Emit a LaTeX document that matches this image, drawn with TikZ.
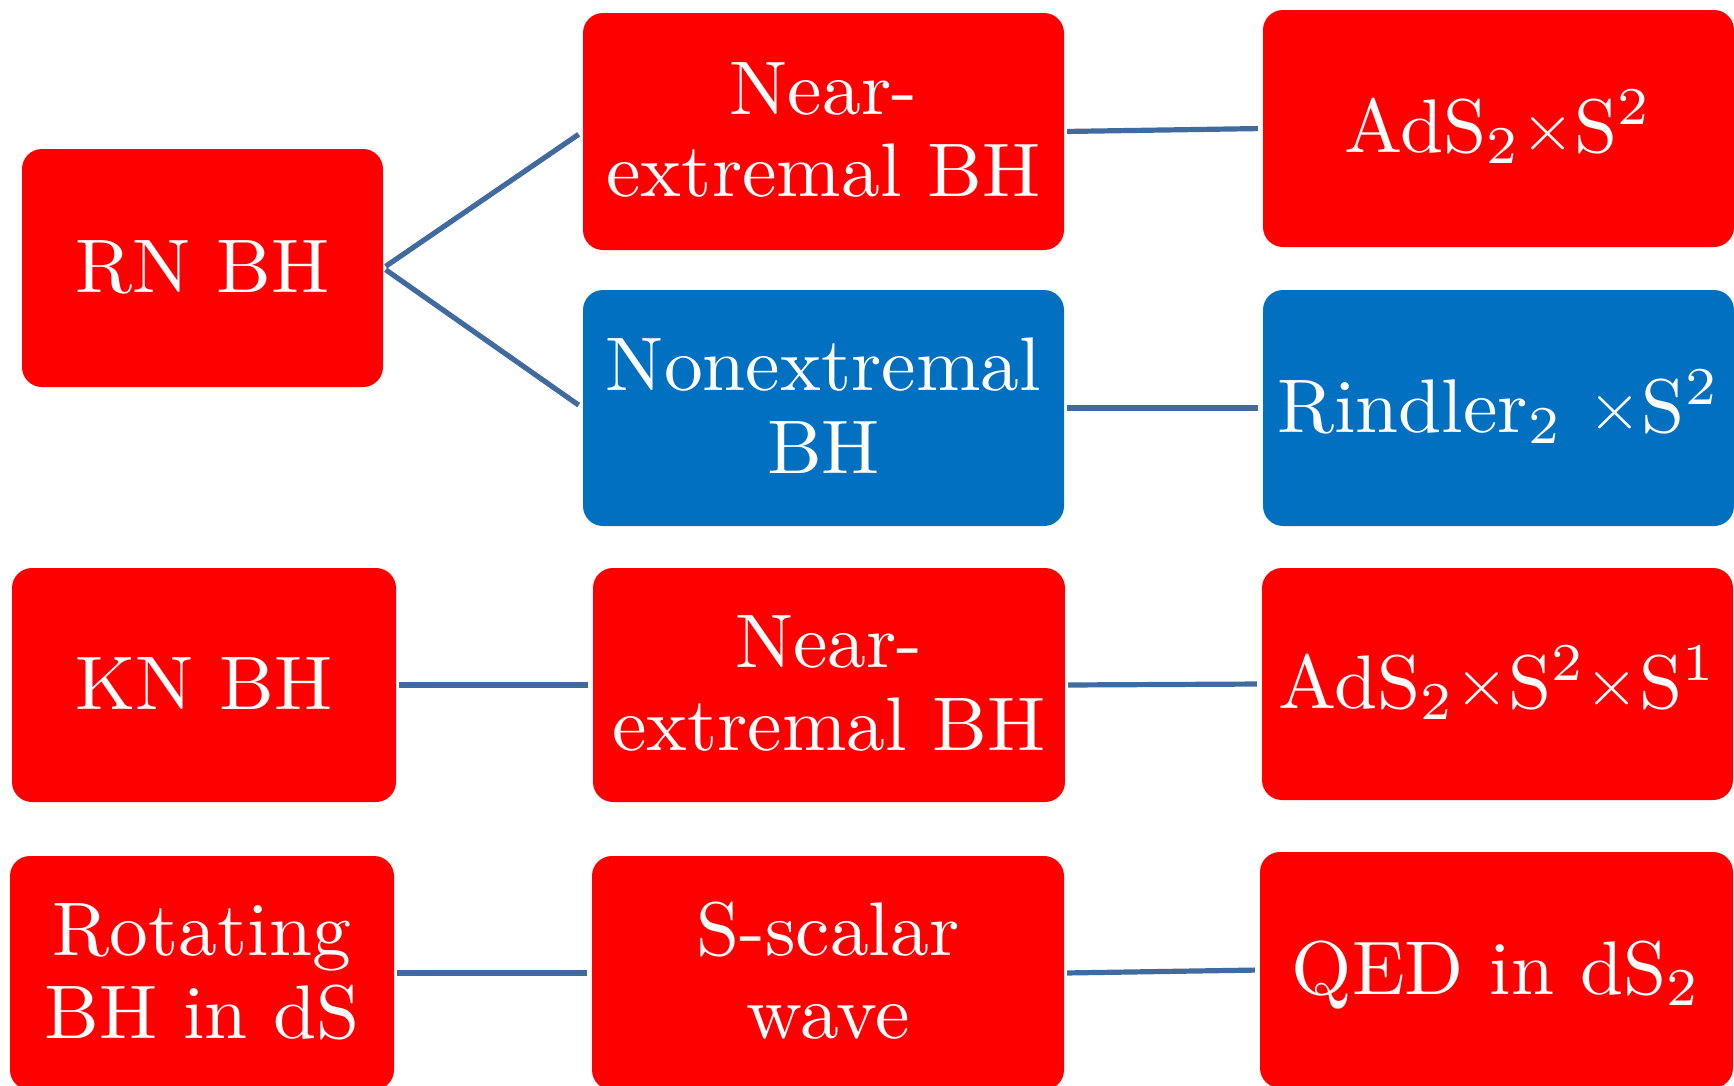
\documentclass[tikz,border=0pt]{standalone}
\usepackage{graphicx}
\definecolor{boxred}{RGB}{255,0,0}
\definecolor{boxblue}{RGB}{2,112,192}
\definecolor{linkblue}{RGB}{65,106,158}
\newcommand{\cardtext}[1]{\scalebox{7.75}[7.6]{\fontsize{10}{10.9}\selectfont\begin{tabular}{@{}c@{}}\rule{0pt}{9.6pt}#1\end{tabular}}}
\newcommand{\tms}{\raisebox{0.03em}{\scalebox{0.88}{$\times$}}}
\begin{document}
\begin{tikzpicture}[x=1pt,y=-1pt,
  card/.style={rectangle, rounded corners=20pt, fill=boxred, text=white, align=center,
    inner sep=0pt},
  bluecard/.style={card, fill=boxblue},
  link/.style={draw=linkblue, line width=5.2pt, shorten >=5pt, shorten <=3pt}]
\useasboundingbox (0,0) rectangle (1734,1085);
% row 1-2
\node[card, minimum width=361pt, minimum height=238pt] (rn) at (202.5,268) {\cardtext{RN BH}};
\node[card, minimum width=481pt, minimum height=237pt] (ne1) at (823.5,131.5) {\cardtext{Near-\\extremal BH}};
\node[card, minimum width=471pt, minimum height=237pt] (ads1) at (1498.5,128.5) {\cardtext{AdS$_2$\tms S$^2$}};
\node[bluecard, minimum width=481pt, minimum height=236pt] (nonext) at (823.5,408) {\cardtext{Nonextremal\\BH}};
\node[bluecard, minimum width=471pt, minimum height=236pt] (rind) at (1498.5,408) {\cardtext{Rindler$_2$ \tms S$^2$}};
% row 3
\node[card, minimum width=384pt, minimum height=234pt] (kn) at (204,685) {\cardtext{KN BH}};
\node[card, minimum width=472pt, minimum height=234pt] (ne2) at (829,685) {\cardtext{Near-\\extremal BH}};
\node[card, minimum width=471pt, minimum height=232pt] (ads2) at (1497.5,684) {\cardtext{AdS$_2$\tms S$^2$\tms S$^1$}};
% row 4
\node[card, minimum width=384pt, minimum height=234pt] (rot) at (202,973) {\cardtext{Rotating\\BH in dS}};
\node[card, minimum width=472pt, minimum height=234pt] (ss) at (828,973) {\cardtext{S-scalar\\wave}};
\node[card, minimum width=473pt, minimum height=236pt] (qed) at (1496.5,970) {\cardtext{QED in dS$_2$}};
% connectors
\draw[link] (rn.east) -- (ne1.west);
\draw[link] (rn.east) -- (nonext.west);
\draw[link] (ne1.east) -- (ads1.west);
\draw[link] (nonext.east) -- (rind.west);
\draw[link] (kn.east) -- (ne2.west);
\draw[link] (ne2.east) -- (ads2.west);
\draw[link] (rot.east) -- (ss.west);
\draw[link] (ss.east) -- (qed.west);
\end{tikzpicture}
\end{document}
